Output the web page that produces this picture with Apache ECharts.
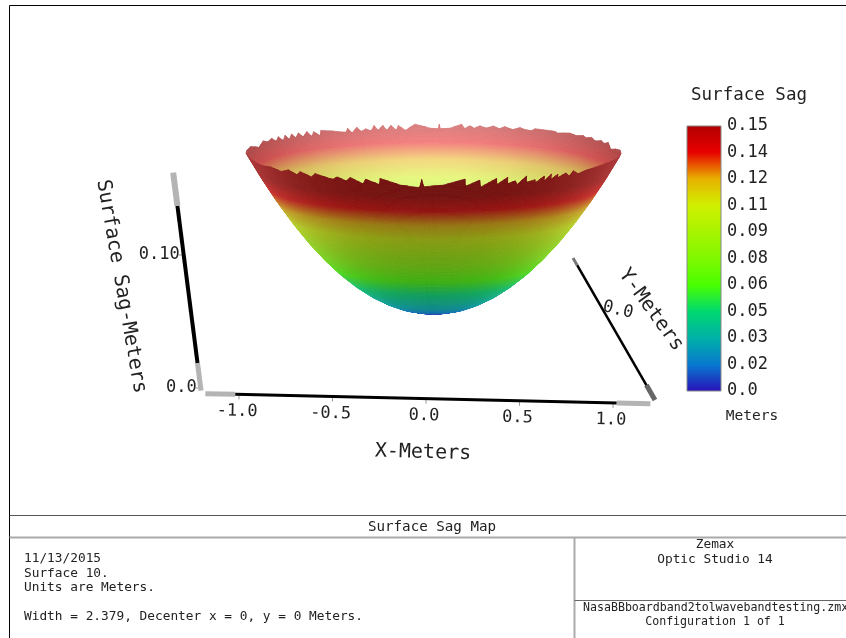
<!DOCTYPE html>
<html><head><meta charset="utf-8">
<style>html,body{margin:0;padding:0;background:#fff}#c{width:846px;height:638px}</style>
<script src="https://cdn.jsdelivr.net/npm/echarts@6/dist/echarts.min.js"></script>
</head><body><div id="c"></div>
<script>
// ---- values ----
const profileRadius = [0, .1, .2, .3, .4, .5, .6, .7, .8, .9, 1.0, 1.1, 1.19];      // m
const profileSag = [0, .0011, .0042, .0095, .0169, .0265, .0381, .0519, .0678, .0858, .1059, .1282, .15]; // m
// rim outline: [x in metres, how far (mm of sag) the clipped edge falls below the full rim]
const rimBack = [[-1.19,0],[-1.185,0],[-1.16,0],[-1.122,3.1],[-1.081,0],[-1.059,1.5],[-1.027,0],[-1.01,2.6],[-.985,0],[-.967,3.2],[-.942,0],[-.928,3.2],[-.901,0],[-.885,2.9],[-.858,0],[-.837,3.2],[-.804,0],[-.784,3.7],[-.763,.7],[-.731,3.9],[-.716,.4],[-.562,3.4],[-.547,.7],[-.526,4.1],[-.488,.5],[-.466,3.6],[-.434,1.9],[-.403,3.6],[-.377,0],[-.357,3.4],[-.322,.2],[-.301,3.7],[-.271,.4],[-.24,4],[-.224,.6],[-.181,4.2],[-.118,0],[-.023,2.8],[.031,3.4],[.037,0],[.043,3.4],[.105,2.8],[.179,0],[.2,2.8],[.232,.9],[.263,2.5],[.295,.6],[.338,2.1],[.38,.3],[.422,2],[.453,.3],[.507,2],[.549,.2],[.581,1.2],[.624,1.8],[.644,.1],[.771,.3],[.793,1.2],[.823,.6],[.866,0],[.909,.9],[.951,0],[.972,1],[1.004,0],[1.035,1.7],[1.067,.3],[1.089,1.5],[1.109,0],[1.141,3.3],[1.184,0],[1.19,0]];
const rimFront = [[-1.19,0],[-1.165,0],[-1.101,1.9],[-1.038,.7],[-.975,2.6],[-.921,0],[-.879,3.2],[-.847,0],[-.784,3.2],[-.752,0],[-.678,2.6],[-.646,3.1],[-.614,1],[-.562,3.7],[-.53,.6],[-.456,5.3],[-.434,1.3],[-.35,5.1],[-.339,0],[-.213,5],[-.096,6.7],[-.09,6.7],[-.075,0],[-.064,6],[.062,4.7],[.2,0],[.206,6],[.295,1.3],[.306,7.2],[.401,.4],[.412,5.5],[.471,0],[.481,5.2],[.528,3.4],[.545,6.8],[.591,0],[.602,5.2],[.655,3.7],[.665,6.1],[.708,1.7],[.719,6],[.75,.4],[.76,5],[.793,1.2],[.803,4.2],[.845,1],[.877,4.2],[.888,0],[.929,3.3],[.983,1.4],[1.035,.7],[1.089,0],[1.184,0],[1.19,0]];
const colormapSag = [0, .015, .03, .045, .06, .075, .09, .105, .12, .135, .15];
const colormapHex = ['#2a10b8','#0878d0','#00b0a8','#00d870','#48ff00','#80f800','#a8f400','#d0f000','#e8b000','#e80000','#b00000'];
const legendTicks = ['0.0','0.02','0.03','0.05','0.06','0.08','0.09','0.11','0.12','0.14','0.15'];
const xTickValues = [-1, -.5, 0, .5, 1];
const xTickLabels = ['-1.0','-0.5','0.0','0.5','1.0'];
const zTickValues = [0, .1];
const zTickLabels = ['0.0','0.10'];
const yTickValues = [0];
const yTickLabels = ['0.0'];
const infoLines = ['11/13/2015','Surface 10.','Units are Meters.','','Width = 2.379, Decenter x = 0, y = 0 Meters.'];

// ---- helpers ----
const MONO = '"DejaVu Sans Mono", monospace';
const ZMAX = .15, RMAX = 1.19, TILT_BACK = .02285, TILT_FRONT = .02087, JAG = 1.25;
const lerpTable = (xs, ys, v) => {
  if (v <= xs[0]) return ys[0];
  for (let i = 1; i < xs.length; i++) if (v <= xs[i]) {
    const f = (v - xs[i-1]) / (xs[i] - xs[i-1]); return ys[i-1] + f * (ys[i] - ys[i-1]);
  }
  return ys[ys.length-1];
};
const sagAt = r => lerpTable(profileRadius, profileSag, r);
const radiusAt = z => lerpTable(profileSag, profileRadius, z);
const rgbStops = colormapHex.map(h => [1,3,5].map(i => parseInt(h.substr(i,2),16)));
const cmap = z => { const t = colormapSag; let i = 1; while (i < t.length-1 && z > t[i]) i++;
  const f = Math.max(0, Math.min(1, (z - t[i-1]) / (t[i] - t[i-1])));
  return rgbStops[i-1].map((c,k) => c + f * (rgbStops[i][k] - c)); };
const rgb = (c, a, w) => 'rgb(' + c.map(v => Math.min(255, Math.round(v*a + 255*w))).join(',') + ')';

function buildSpokes(rim) {
  const out = [];
  for (let i = 0; i < rim.length; i++) {
    out.push(rim[i]);
    if (i < rim.length-1) {
      const gap = rim[i+1][0] - rim[i][0], n = Math.floor(gap / .028);
      for (let k = 1; k <= n; k++) {
        const f = k/(n+1); out.push([rim[i][0] + f*gap, rim[i][1] + f*(rim[i+1][1]-rim[i][1])]);
      }
    }
  }
  return out.map(([x,d]) => { const rr = radiusAt(ZMAX - JAG*d/1000); const c = Math.max(-1, Math.min(1, x/RMAX));
    return {rr, c, s: Math.sqrt(1-c*c)}; });
}
function buildQuads(front, rim, ringsU) {
  const sp = buildSpokes(rim), quads = [], sgn = front ? -TILT_FRONT : TILT_BACK;
  const pt = (s, u) => { const r = Math.min(u*RMAX, s.rr); return [r*s.c, sagAt(r) + sgn*r*s.s]; };
  for (let j = 0; j < ringsU.length-1; j++) {
    const ua = ringsU[j], ub = ringsU[j+1];
    for (let i = 0; i < sp.length-1; i++) {
      const a = sp[i], b = sp[i+1];
      if (ua*RMAX >= Math.max(a.rr, b.rr)) continue;
      const u = (ua+ub)/2, z = sagAt(u*RMAX), c = (a.c+b.c)/2, c2 = c*c;
      const fill = front
        ? rgb(cmap(z + .017*Math.min(1, u*4)), .55 + .1*c2 + .3*(1-u)*(1-u), .07 + .17*c2*c2*u)
        : rgb(cmap(z), .5 + .05*c2, .5 - .22*c2);
      quads.push({p:[pt(a,ua),pt(b,ua),pt(b,ub),pt(a,ub)], fill});
    }
  }
  return quads;
}
const backRings = Array.from({length:41}, (_,j) => .72 + .28*j/40);
const frontRings = Array.from({length:91}, (_,j) => Math.pow(j/90, .7));
const backQuads = buildQuads(false, rimBack, backRings);
const frontQuads = buildQuads(true, rimFront, frontRings);

const quadSeries = quads => ({
  type:'custom', xAxisIndex:0, yAxisIndex:0, silent:true, animation:false, progressive:0,
  data: quads.map((q,i) => [i]),
  renderItem: (params, api) => {
    const q = quads[params.dataIndex];
    return {type:'polygon', shape:{points:q.p.map(v => api.coord(v))}, style:{fill:q.fill, stroke:q.fill, lineWidth:.7}};
  }
});

// axis rails, in the same plot units as the bowl (x metres, apparent height metres)
const railX = v => [-.0476 + 1.1868*v, -.0803 - .00394*v];
const railZ = v => [-1.4775 - 1.079*v, -.0703 + 1.2469*v];
const railY = v => [1.1456 - .2186*v, -.015 + .05593*v];
const railSegments = [
  {rail:railX, from:-1.18, to:-1.02, color:'#b4b4b4', width:5},
  {rail:railX, from:-1.02, to:1.02, color:'#000', width:3},
  {rail:railX, from:1.02, to:1.2, color:'#b4b4b4', width:5},
  {rail:railZ, from:-.002, to:.0188, color:'#b4b4b4', width:5},
  {rail:railZ, from:.0188, to:.137, color:'#000', width:4},
  {rail:railZ, from:.137, to:.162, color:'#b4b4b4', width:6},
  {rail:railY, from:-1.19, to:-.94, color:'#666', width:5},
  {rail:railY, from:-.94, to:1.07, color:'#000', width:2.5},
  {rail:railY, from:1.07, to:1.19, color:'#777', width:3}
];
const tickMarks = [
  ...xTickValues.map(v => ({at:railX(v), dx:0, dy:5})),
  ...zTickValues.map(v => ({at:railZ(v), dx:-5, dy:0}))
];
const labelFont = s => s + 'px ' + MONO;
const axisTexts = [
  ...xTickValues.map((v,i) => ({at:railX(v), dx:-2, dy:17, text:xTickLabels[i], size:17, rot:-1.4, align:'center'})),
  ...zTickValues.map((v,i) => ({at:railZ(v), dx:-4, dy:0, text:zTickLabels[i], size:17, rot:0, align:'right'})),
  ...yTickValues.map((v,i) => ({at:railY(v), dx:4, dy:-19, text:yTickLabels[i], size:17, rot:-13, align:'center'})),
  {at:railX(0), dx:-3, dy:54, text:'X-Meters', size:20, rot:-1.5, align:'center'},
  {at:railZ(.08), dx:-66, dy:5, text:'Surface Sag-Meters', size:20, rot:-80, align:'center'},
  {at:railY(0), dx:37, dy:-19, text:'Y-Meters', size:20, rot:-54, align:'center'}
];

const frame = [[9,5,846,5,'#000',1],[9,5,9,638,'#000',1],[9,515,846,515,'#555',1],[9,537,846,537,'#aaa',2],[574,537,574,638,'#aaa',2],[574,600,846,600,'#666',1]];
const texts = [
  ['Surface Sag', 749, 95.5, 'center', 17.5], ['Meters', 752, 416.5, 'center', 14.5],
  ['Surface Sag Map', 432, 527.5, 'center', 14.2], ['Zemax', 715, 544.5, 'center', 12.8], ['Optic Studio 14', 715, 560, 'center', 12.8],
  ['NasaBBboardband2tolwavebandtesting.zmx', 583, 608, 'left', 11.6], ['Configuration 1 of 1', 715, 621.5, 'center', 11.6],
  ...infoLines.map((t,i) => [t, 24, 559 + i*14.5, 'left', 12.8])
];

const chart = echarts.init(document.getElementById('c'), null, {renderer:'canvas'});
chart.setOption({
  animation:false, backgroundColor:'#fff',
  grid:[{left:0,top:0,width:846,height:638},{left:687,top:126,width:34,height:265}],
  xAxis:[{type:'value',gridIndex:0,min:-2.7513,max:2.618,show:false},{type:'value',gridIndex:1,min:0,max:1,show:false}],
  yAxis:[{type:'value',gridIndex:0,min:-.30469,max:.29344,show:false},
    {type:'category',gridIndex:1,data:legendTicks,boundaryGap:false,position:'right',
     axisLine:{show:false},axisTick:{show:false},splitLine:{show:false},
     axisLabel:{interval:0,margin:6,color:'#222',fontFamily:MONO,fontSize:17}}],
  graphic:[
    ...frame.map(f => ({type:'line',silent:true,shape:{x1:f[0]+.5,y1:f[1]+.5,x2:f[2]+.5,y2:f[3]+.5},style:{stroke:f[4],lineWidth:f[5]}})),
    ...texts.map(t => ({type:'text',silent:true,x:t[1],y:t[2],style:{text:t[0],fill:'#222',font:labelFont(t[4]),align:t[3],verticalAlign:'middle'}}))
  ],
  series:[
    quadSeries(backQuads),
    quadSeries(frontQuads),
    {type:'custom',xAxisIndex:1,yAxisIndex:1,silent:true,animation:false,data:[[0,0]],
     renderItem:(p,api) => {
       const a = api.coord([0,0]), b = api.coord([1,legendTicks.length-1]);
       const stops = colormapSag.map((z,i) => ({offset:1-z/ZMAX,color:colormapHex[i]})).reverse();
       return {type:'rect',shape:{x:a[0],y:b[1],width:b[0]-a[0],height:a[1]-b[1]},
         style:{fill:new echarts.graphic.LinearGradient(0,0,0,1,stops),stroke:'#888',lineWidth:1}};
     }},
    {type:'custom',xAxisIndex:0,yAxisIndex:0,silent:true,animation:false,data:tickMarks.map((s,i)=>[i]),
     renderItem:(p,api) => { const s = tickMarks[p.dataIndex], a = api.coord(s.at);
       return {type:'line',shape:{x1:a[0],y1:a[1],x2:a[0]+s.dx,y2:a[1]+s.dy},style:{stroke:'#999',lineWidth:1}}; }},
    {type:'custom',xAxisIndex:0,yAxisIndex:0,silent:true,animation:false,data:railSegments.map((s,i)=>[i]),
     renderItem:(p,api) => { const s = railSegments[p.dataIndex], a = api.coord(s.rail(s.from)), b = api.coord(s.rail(s.to));
       return {type:'line',shape:{x1:a[0],y1:a[1],x2:b[0],y2:b[1]},style:{stroke:s.color,lineWidth:s.width}}; }},
    {type:'custom',xAxisIndex:0,yAxisIndex:0,silent:true,animation:false,data:axisTexts.map((s,i)=>[i]),
     renderItem:(p,api) => { const s = axisTexts[p.dataIndex], a = api.coord(s.at);
       return {type:'text',x:a[0]+s.dx,y:a[1]+s.dy,rotation:s.rot*Math.PI/180,
         style:{text:s.text,x:0,y:0,fill:'#222',font:labelFont(s.size),align:s.align,verticalAlign:'middle'}}; }}
  ]
});
</script></body></html>
